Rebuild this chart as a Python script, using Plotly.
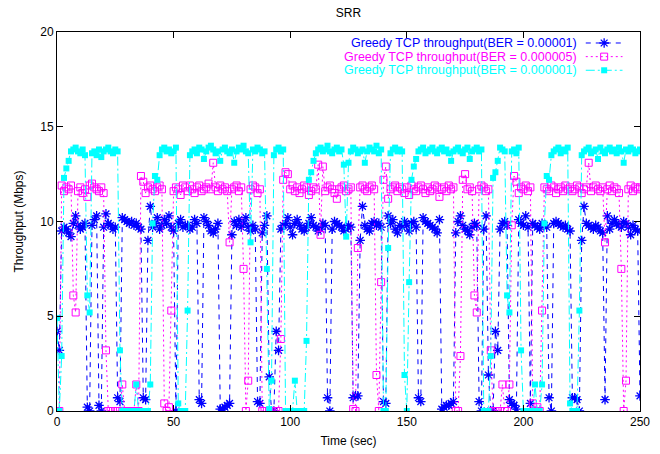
import plotly.graph_objects as go

# ---------------- data ----------------
time_sec = list(range(0, 251))

ber_1e5 = [
    4.2, 3.2, 9.5, 9.7, 9.6, 9.4, 9.2, 9.9, 10.3, 9.8,
    9.6, 9.7, 9.9, 0.2, 0.0, 9.8, 10.1, 10.3, 0.3, 0.0,
    9.7, 10.4, 9.9, 9.8, 9.6, 9.7, 0.7, 0.5, 10.2, 10.1,
    10.0, 9.9, 10.0, 9.8, 9.9, 9.7, 9.6, 0.7, 0.6, 9.0,
    10.8, 9.7, 9.9, 10.2, 9.6, 9.8, 10.1, 9.9, 10.3, 9.7,
    9.5, 0.0, 9.9, 10.1, 9.7, 9.8, 9.8, 9.6, 9.7, 10.1,
    9.9, 0.6, 0.4, 10.2, 10.0, 9.8, 9.5, 9.4, 9.6, 9.9,
    0.1, 0.1, 0.2, 0.3, 0.4, 9.3, 10.0, 9.8, 10.1, 9.7,
    9.9, 10.2, 9.7, 9.5, 9.8, 9.6, 0.5, 0.4, 9.4, 9.8,
    10.3, 1.8, 0.0, 0.0, 4.2, 3.2, 9.6, 9.8, 9.9, 10.2,
    9.7, 9.3, 9.9, 10.1, 9.8, 9.6, 9.5, 9.7, 9.9, 10.2,
    9.8, 9.7, 9.5, 9.6, 9.9, 9.8, 0.7, 0.0, 9.6, 10.0,
    9.9, 9.8, 9.7, 9.5, 9.6, 9.8, 9.7, 0.7, 0.8, 0.8,
    9.0, 10.8, 9.8, 9.6, 9.5, 9.9, 10.0, 9.8, 9.9, 9.7,
    0.5, 0.4, 10.3, 9.9, 10.1, 9.6, 9.4, 9.8, 9.7, 10.0,
    9.8, 9.5, 9.9, 10.0, 9.7, 0.7, 0.5, 10.2, 10.0, 9.9,
    9.8, 9.7, 9.6, 9.4, 10.1, 0.1, 0.2, 0.3, 0.3, 0.4,
    0.5, 9.4, 10.0, 10.3, 9.8, 9.6, 9.5, 9.3, 9.7, 9.9,
    9.8, 0.5, 0.0, 9.6, 10.3, 1.9, 0.0, 0.0, 4.2, 3.2,
    9.6, 9.9, 10.0, 9.8, 0.6, 0.4, 0.3, 0.1, 10.1, 9.9,
    9.8, 10.3, 9.7, 0.4, 9.9, 9.8, 9.7, 9.6, 9.9, 9.8,
    9.7, 0.7, 0.0, 9.9, 10.0, 9.9, 9.8, 9.7, 9.8, 9.6,
    9.5, 0.7, 0.7, 0.6, 0.0, 9.0, 10.8, 9.9, 9.8, 9.7,
    9.6, 9.8, 9.7, 9.5, 9.4, 0.6, 10.3, 9.6, 9.9, 10.1,
    9.9, 9.8, 9.7, 10.0, 9.9, 9.7, 9.3, 9.8, 9.6, 9.5,
    0.8,
]

ber_5e6 = [
    0.0, 0.0, 11.9, 11.6, 11.8, 11.7, 11.9, 6.1, 5.2, 11.6,
    11.8, 11.5, 11.7, 11.3, 11.9, 12.0, 11.8, 11.7, 11.6, 11.8,
    11.5, 3.2, 0.0, 0.0, 0.0, 0.0, 0.0, 0.0, 1.4, 0.0,
    0.0, 0.0, 0.0, 0.0, 1.4, 0.0, 12.4, 12.1, 11.5, 11.8,
    11.9, 11.7, 11.6, 11.8, 11.9, 11.7, 0.4, 0.0, 0.2, 5.3,
    11.6, 11.8, 11.7, 11.4, 11.9, 11.8, 11.6, 11.9, 11.7, 11.5,
    11.8, 11.9, 11.6, 11.7, 11.8, 12.0, 11.7, 13.1, 11.8, 11.6,
    11.9, 11.7, 11.8, 11.6, 8.9, 11.7, 11.8, 11.9, 11.6, 11.8,
    7.5, 0.0, 1.6, 11.7, 11.9, 11.8, 11.5, 11.7, 0.0, 0.0,
    0.0, 0.0, 0.0, 0.0, 0.0, 0.0, 3.8, 12.2, 12.6, 12.5,
    11.7, 11.9, 11.6, 11.8, 11.5, 11.7, 11.9, 11.8, 11.4, 11.6,
    11.8, 11.7, 13.0, 9.3, 12.9, 11.6, 11.8, 11.9, 11.7, 11.5,
    11.2, 11.7, 11.8, 11.9, 11.6, 11.7, 11.8, 0.1, 0.0, 8.6,
    11.8, 11.9, 11.7, 11.6, 11.8, 11.9, 11.7, 1.9, 0.0, 6.8,
    12.2, 12.9, 11.2, 11.7, 11.8, 11.9, 11.6, 11.8, 11.7, 11.5,
    11.8, 11.4, 11.9, 11.7, 11.6, 11.8, 11.9, 11.7, 11.5, 11.8,
    11.6, 11.7, 11.9, 11.8, 11.3, 11.7, 11.8, 11.6, 11.9, 11.7,
    11.8, 0.0, 0.0, 2.9, 12.2, 12.5, 11.7, 11.8, 11.6, 6.1,
    5.2, 11.7, 11.9, 11.8, 11.6, 11.7, 3.2, 0.0, 0.0, 0.0,
    0.0, 1.4, 0.0, 0.0, 1.4, 9.8, 12.4, 12.1, 11.5, 11.8,
    11.7, 11.9, 11.6, 11.8, 0.4, 0.0, 0.2, 0.0, 5.3, 11.8,
    11.7, 11.6, 11.9, 11.8, 11.5, 11.7, 11.8, 11.6, 11.9, 11.7,
    11.8, 11.6, 11.7, 11.9, 11.8, 11.5, 11.7, 11.8, 13.1, 11.6,
    11.8, 11.9, 11.7, 11.6, 11.8, 8.9, 11.7, 11.9, 11.6, 11.8,
    11.7, 11.5, 7.5, 0.0, 1.6, 11.7, 11.9, 11.6, 11.8, 11.7,
    11.8,
]

ber_1e6 = [
    4.9, 0.0, 2.9, 12.3, 12.8, 13.2, 13.7, 13.8, 13.9, 13.7,
    13.6, 13.8, 13.5, 6.1, 5.2, 13.6, 13.7, 13.5, 13.8, 13.4,
    13.7, 13.8, 13.9, 13.7, 13.6, 13.8, 13.7, 3.2, 0.0, 0.0,
    0.0, 0.0, 0.0, 0.0, 1.4, 0.0, 0.0, 0.0, 0.0, 0.0,
    1.4, 9.9, 12.4, 12.2, 13.5, 13.8, 13.9, 13.7, 13.8, 13.6,
    13.7, 13.9, 0.4, 0.0, 0.0, 0.0, 5.3, 13.5, 13.7, 13.8,
    13.6, 13.9, 13.8, 13.3, 13.7, 13.9, 14.0, 13.8, 13.6, 13.7,
    13.2, 13.8, 13.9, 13.7, 13.6, 13.8, 13.1, 13.7, 13.9, 13.8,
    14.0, 13.7, 13.6, 8.9, 13.8, 13.7, 13.9, 13.8, 13.6, 13.7,
    7.5, 0.1, 1.6, 13.5, 13.8, 13.9, 13.7, 13.8, 0.0, 0.0,
    0.0, 0.0, 1.6, 0.0, 0.0, 0.0, 0.0, 3.7, 12.2, 12.6,
    13.2, 13.6, 13.8, 13.9, 13.7, 13.8, 14.0, 13.7, 13.6, 13.8,
    13.9, 13.7, 13.8, 13.0, 9.2, 13.1, 13.7, 13.9, 13.8, 13.6,
    13.7, 13.8, 13.1, 13.7, 13.9, 13.8, 13.7, 14.0, 13.6, 13.8,
    0.0, 0.0, 8.6, 13.6, 13.8, 13.9, 13.7, 13.8, 13.7, 1.9,
    0.0, 6.8, 12.2, 12.9, 13.3, 13.7, 13.8, 13.9, 13.6, 13.7,
    13.8, 13.9, 13.7, 13.6, 13.8, 13.9, 13.7, 13.8, 13.6, 13.2,
    13.7, 13.8, 13.9, 13.7, 13.6, 13.8, 13.9, 13.3, 13.7, 13.8,
    13.9, 13.7, 13.8, 0.0, 0.0, 0.0, 2.9, 12.3, 12.6, 13.2,
    13.9, 13.8, 13.7, 6.1, 5.2, 13.7, 13.8, 13.6, 13.9, 3.2,
    0.0, 0.0, 0.0, 0.0, 0.0, 1.4, 0.0, 0.0, 1.4, 9.9,
    12.4, 12.2, 13.5, 13.7, 13.8, 13.9, 13.6, 13.8, 13.7, 13.9,
    0.4, 0.0, 0.0, 0.0, 5.3, 13.5, 13.7, 13.8, 13.9, 13.6,
    13.7, 13.8, 13.3, 13.9, 13.7, 13.6, 13.8, 13.9, 13.7, 13.8,
    13.6, 13.9, 13.7, 13.1, 13.8, 13.7, 13.9, 13.8, 13.6, 13.7,
    13.8,
]

series_names = [
    "Greedy TCP throughput(BER = 0.00001)",
    "Greedy TCP throughput(BER = 0.000005)",
    "Greedy TCP throughput(BER = 0.000001)",
]
x_ticks = [0, 50, 100, 150, 200, 250]
y_ticks = [0, 5, 10, 15, 20]

# ---------------- styles ----------------
BLUE, MAGENTA, CYAN = "#0000ff", "#ff00ff", "#00ffff"
FONT = "Liberation Sans, Arial, Helvetica, sans-serif"

styles = [
    dict(color=BLUE, dash="5px,5px", symbol="asterisk-open", size=8, mline=dict(color=BLUE, width=1.3)),
    dict(color=MAGENTA, dash="2px,3px", symbol="square-open", size=7, mline=dict(color=MAGENTA, width=1)),
    dict(color=CYAN, dash="9px,3px,2px,3px", symbol="square", size=6, mline=dict(color=CYAN, width=0)),
]

fig = go.Figure()
for ys, name, st in zip([ber_1e5, ber_5e6, ber_1e6], series_names, styles):
    fig.add_trace(go.Scatter(
        x=time_sec, y=ys, name=name, mode="lines+markers",
        line=dict(color=st["color"], width=1, dash=st["dash"]),
        marker=dict(symbol=st["symbol"], size=st["size"], color=st["color"], line=st["mline"]),
        showlegend=False,
    ))

# ---------------- gnuplot-style key (text right, sample left) ----------------
key_rows = [0.971, 0.935, 0.899]
key_text_x = 0.8937
key_line = [0.907, 0.970]
key_mark = 0.9385
for name, st, ry in zip(series_names, styles, key_rows):
    fig.add_trace(go.Scatter(
        x=key_line, y=[ry, ry], mode="lines", xaxis="x2", yaxis="y2",
        line=dict(color=st["color"], width=1, dash=st["dash"]),
        showlegend=False, hoverinfo="skip",
    ))
    fig.add_trace(go.Scatter(
        x=[key_mark], y=[ry], mode="markers", xaxis="x2", yaxis="y2",
        marker=dict(symbol=st["symbol"], size=st["size"], color=st["color"], line=st["mline"]),
        showlegend=False, hoverinfo="skip",
    ))
    fig.add_annotation(
        x=key_text_x, y=ry, xref="paper", yref="paper", text=name,
        showarrow=False, xanchor="right", yanchor="middle", borderpad=0,
        font=dict(family=FONT, size=12.5, color=st["color"]),
    )

axis_common = dict(
    showgrid=False, zeroline=False, showline=True, linecolor="black", linewidth=1,
    mirror="allticks", ticks="inside", ticklen=6, tickcolor="black", tickwidth=1,
    tickfont=dict(family=FONT, size=12, color="black"), automargin=False,
)

fig.update_layout(
    width=660, height=454,
    margin=dict(l=57, r=20, t=32, b=43),
    paper_bgcolor="white", plot_bgcolor="white",
    font=dict(family=FONT, size=12, color="black"),
    title=dict(text="SRR", x=0.5, xref="paper", y=1 - 13 / 454, yref="container",
               xanchor="center", yanchor="middle", font=dict(family=FONT, size=12, color="black")),
    xaxis=dict(range=[0, 250], tickvals=x_ticks, ticktext=[str(v) for v in x_ticks],
               title=dict(text="Time (sec)", font=dict(family=FONT, size=12), standoff=8),
               **axis_common),
    yaxis=dict(range=[0, 20], tickvals=y_ticks, ticktext=[str(v) for v in y_ticks],
               title=dict(text="Throughput (Mbps)", font=dict(family=FONT, size=12), standoff=14),
               **axis_common),
    xaxis2=dict(range=[0, 1], overlaying="x", visible=False, fixedrange=True),
    yaxis2=dict(range=[0, 1], overlaying="y", visible=False, fixedrange=True),
    showlegend=False,
)

fig.write_html("out.html")
